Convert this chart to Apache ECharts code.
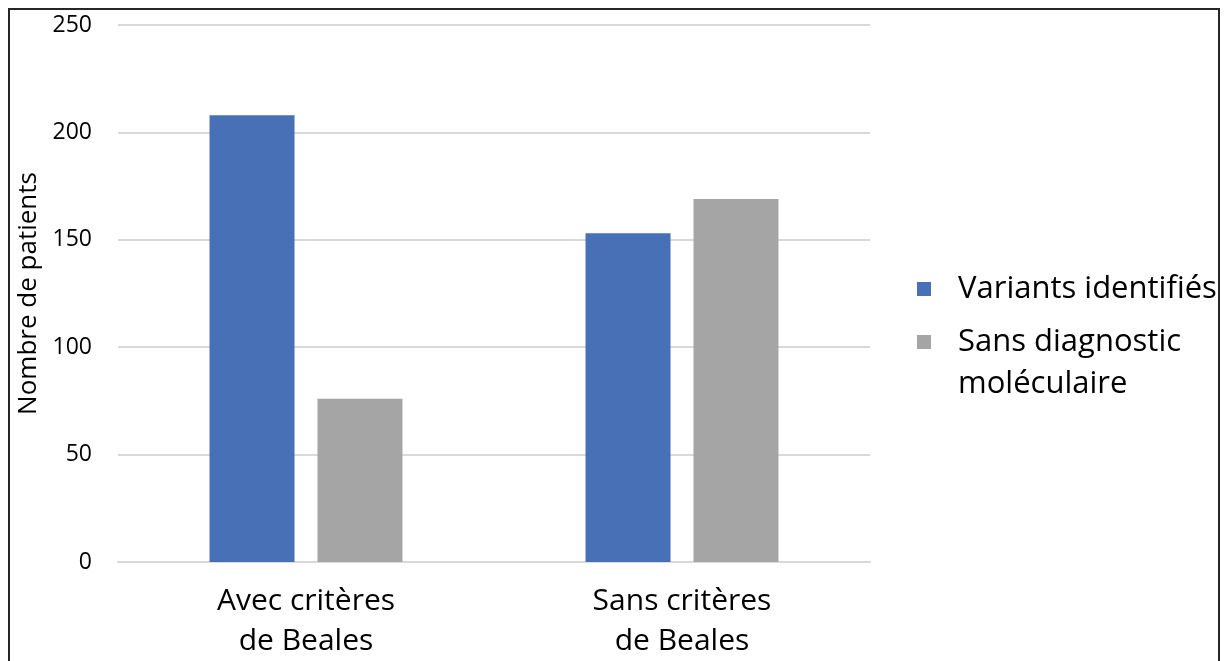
<!DOCTYPE html>
<html>
<head>
<meta charset="utf-8">
<script src="https://cdn.jsdelivr.net/npm/echarts@6/dist/echarts.min.js"></script>
<style>
  html, body { margin: 0; padding: 0; background: #fff; }
  #wrap { position: relative; width: 1228px; height: 661px; overflow: hidden; }
  #frame { position: absolute; left: 8px; top: 8px; width: 1212px; height: 700px;
           border: 2px solid #262626; box-sizing: border-box; pointer-events: none; }
  #chart { position: absolute; left: 0; top: 0; width: 1228px; height: 661px; }
</style>
</head>
<body>
<div id="wrap">
  <div id="chart"></div>
  <div id="frame"></div>
</div>
<script>
// Patients per group, split by molecular outcome
const categories = ['Avec critères\nde Beales', 'Sans critères\nde Beales'];
const seriesNames = ['Variants identifiés', 'Sans diagnostic moléculaire'];
const variantsIdentifies = [208, 153];
const sansDiagnostic = [76, 169];
const yTicks = { min: 0, max: 250, interval: 50 };

const FONT = '"Open Sans", "Noto Sans", sans-serif';
const chart = echarts.init(document.getElementById('chart'));

const legendText = { fontSize: 31, color: '#000', lineHeight: 42, padding: [0, 0, 0, 22], fontFamily: FONT };
const legendBase = {
  orient: 'vertical',
  left: 912,
  icon: 'rect',
  itemWidth: 14,
  itemHeight: 14,
  textStyle: legendText,
  formatter: function (name) {
    // leading blank line keeps the swatch level with "Sans diagnostic"
    return name === seriesNames[1] ? '\nSans diagnostic\nmoléculaire' : name;
  }
};

chart.setOption({
  animation: false,
  textStyle: { fontFamily: FONT },
  grid: { left: 118, right: 358, top: 25, bottom: 98 },
  legend: [
    Object.assign({}, legendBase, { top: 263, data: [seriesNames[0]] }),
    Object.assign({}, legendBase, { top: 274, data: [seriesNames[1]] })
  ],
  xAxis: {
    type: 'category',
    data: categories,
    axisLine: { lineStyle: { color: '#d9d9d9', width: 2 } },
    axisTick: { show: false },
    axisLabel: { fontSize: 30, lineHeight: 40, color: '#000', margin: 19, fontFamily: FONT }
  },
  yAxis: {
    type: 'value',
    min: yTicks.min,
    max: yTicks.max,
    interval: yTicks.interval,
    name: 'Nombre de patients',
    nameLocation: 'middle',
    nameGap: 75,
    nameTextStyle: { fontSize: 26, color: '#000', fontFamily: FONT },
    axisLine: { show: false },
    axisTick: { show: false },
    axisLabel: { fontSize: 23, color: '#000', margin: 26, fontFamily: FONT },
    splitLine: { lineStyle: { color: '#d9d9d9', width: 2 } }
  },
  series: [
    {
      name: seriesNames[0],
      type: 'bar',
      data: variantsIdentifies,
      barWidth: 85,
      barGap: '27%',
      itemStyle: { color: '#4870B7' }
    },
    {
      name: seriesNames[1],
      type: 'bar',
      data: sansDiagnostic,
      barWidth: 85,
      itemStyle: { color: '#A5A5A5' }
    }
  ]
});
</script>
</body>
</html>
